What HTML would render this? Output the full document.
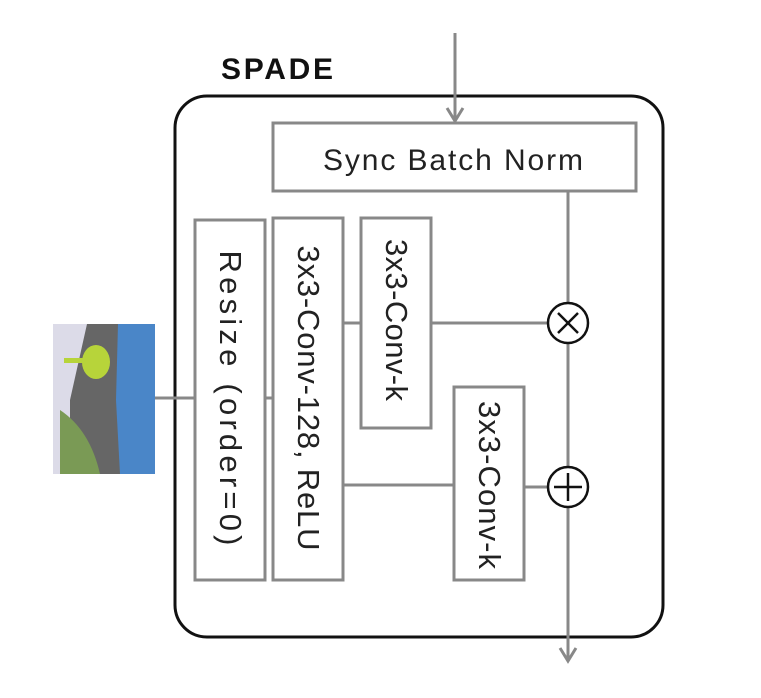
<!DOCTYPE html>
<html><head><style>body{margin:0;background:#fff}svg{display:block}</style></head><body>
<svg width="761" height="698" viewBox="0 0 761 698" xmlns="http://www.w3.org/2000/svg" font-family="Liberation Sans, sans-serif">
<text x="221" y="79" font-size="30" font-weight="bold" fill="#111" textLength="112">SPADE</text>
<rect x="175" y="96" width="488" height="541" rx="32" fill="none" stroke="#111" stroke-width="3"/>
<g stroke="#888" stroke-width="3" fill="none">
<line x1="455" y1="33" x2="455" y2="120"/>
<polyline points="447,108 455,121 463,108"/>
<rect x="273" y="123" width="363" height="68" fill="#fff"/>
<rect x="195" y="220" width="70" height="360" fill="#fff"/>
<rect x="273" y="218" width="70" height="362" fill="#fff"/>
<rect x="361" y="218" width="70" height="210" fill="#fff"/>
<rect x="454" y="387" width="70" height="193" fill="#fff"/>
<line x1="568" y1="191" x2="568" y2="303"/>
<line x1="568" y1="343" x2="568" y2="467"/>
<line x1="568" y1="507" x2="568" y2="660"/>
<polyline points="560,648 568,661 576,648"/>
<line x1="155" y1="398" x2="195" y2="398"/>
<line x1="265" y1="398" x2="273" y2="398"/>
<line x1="343" y1="323" x2="361" y2="323"/>
<line x1="431" y1="323" x2="548" y2="323"/>
<line x1="343" y1="485" x2="454" y2="485"/>
<line x1="524" y1="487" x2="548" y2="487"/>
</g>
<g stroke="#111" stroke-width="2.5" fill="#fff">
<circle cx="568" cy="323" r="20"/>
<circle cx="568" cy="487" r="20"/>
</g>
<g stroke="#111" stroke-width="2.5">
<line x1="558" y1="313" x2="578" y2="333"/><line x1="578" y1="313" x2="558" y2="333"/>
<line x1="554" y1="487" x2="582" y2="487"/><line x1="568" y1="473" x2="568" y2="501"/>
</g>
<text x="453" y="170" font-size="30" text-anchor="middle" fill="#222" textLength="260">Sync Batch Norm</text>
<g font-size="31" fill="#222" text-anchor="middle">
<text transform="translate(220,398) rotate(90)" textLength="295">Resize (order=0)</text>
<text transform="translate(298,398) rotate(90)" textLength="305">3x3-Conv-128, ReLU</text>
<text transform="translate(386,320) rotate(90)" textLength="162">3x3-Conv-k</text>
<text transform="translate(479,485) rotate(90)" textLength="168">3x3-Conv-k</text>
</g>
<g>
<rect x="53" y="324" width="102" height="150" fill="#dcdbe8"/>
<path d="M87,324 L155,324 L155,474 L70,474 L70,400 Z" fill="#666"/>
<path d="M118,324 L155,324 L155,474 L120,474 L116,400 Z" fill="#4a86c8"/>
<path d="M60,410 Q90,430 100,474 L60,474 Z" fill="#7a9a55"/>
<ellipse cx="96" cy="362" rx="14" ry="17" fill="#b7d43a"/>
<rect x="64" y="358" width="22" height="5" fill="#b7d43a"/>
</g>
</svg>
</body></html>
